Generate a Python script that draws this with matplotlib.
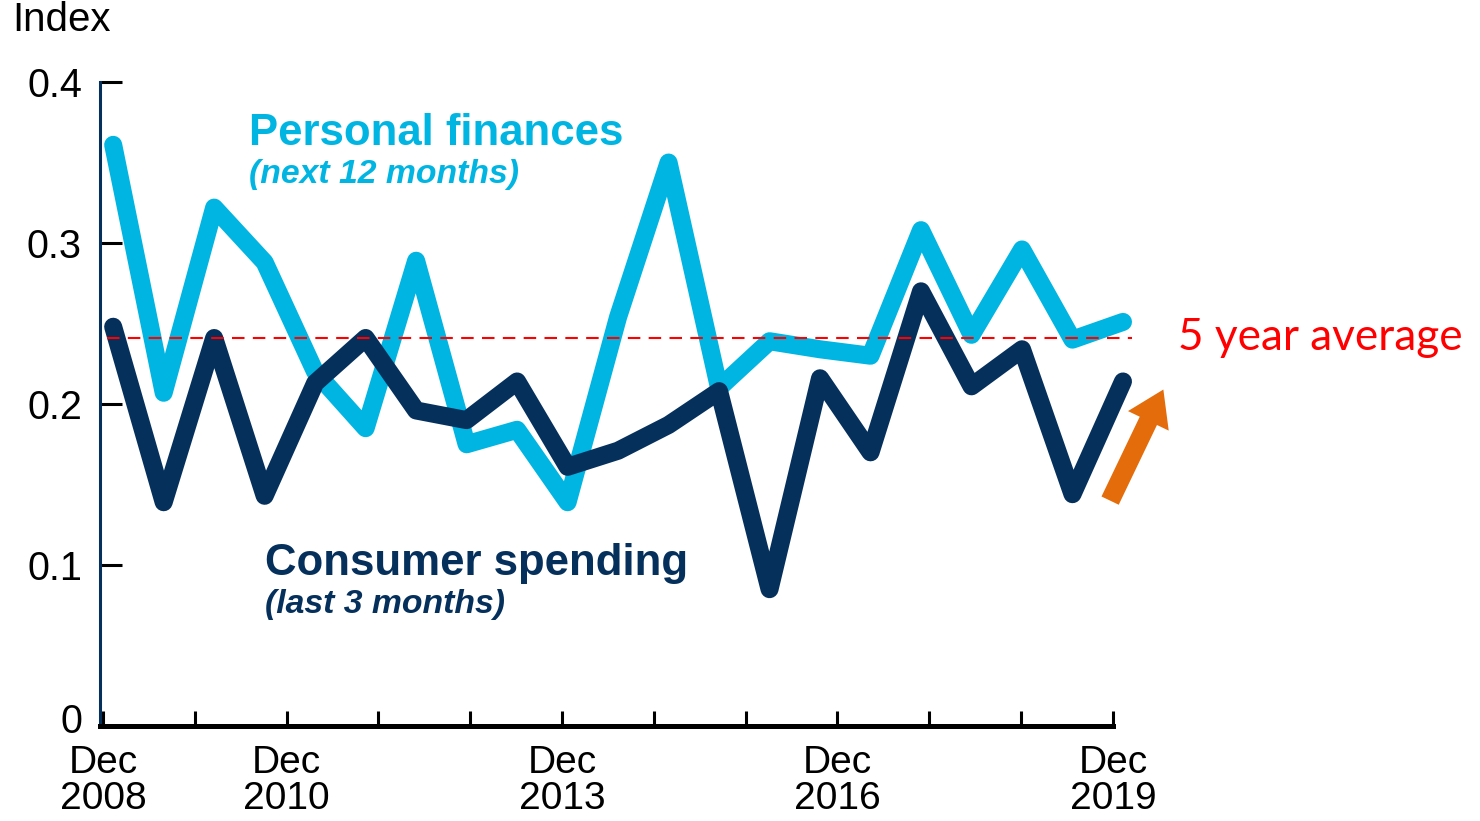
import numpy as np
import matplotlib
matplotlib.use("Agg")
import matplotlib.pyplot as plt
import matplotlib.transforms as mtransforms

# -----------------------------
# Data
# -----------------------------
# survey dates as decimal years (Dec of year N == N)
dates = [2008.11, 2008.66, 2009.21, 2009.76, 2010.31, 2010.86, 2011.41,
         2011.96, 2012.51, 2013.06, 2013.61, 2014.16, 2014.71, 2015.26,
         2015.81, 2016.36, 2016.91, 2017.46, 2018.01, 2018.56, 2019.11]

personal_finances = [0.361, 0.207, 0.322, 0.288, 0.220, 0.185, 0.289,
                     0.175, 0.184, 0.139, 0.254, 0.350, 0.210, 0.239,
                     0.234, 0.230, 0.308, 0.243, 0.296, 0.240, 0.251]

consumer_spending = [0.248, 0.139, 0.241, 0.143, 0.213, 0.241, 0.196,
                     0.190, 0.214, 0.161, 0.171, 0.187, 0.208, 0.085,
                     0.216, 0.170, 0.270, 0.211, 0.234, 0.144, 0.214]

five_year_avg = 0.241

year_ticks = [2008, 2009, 2010, 2011, 2012, 2013, 2014, 2015, 2016, 2017, 2018, 2019]
year_labels = ["Dec\n2008", "", "Dec\n2010", "", "", "Dec\n2013", "", "",
               "Dec\n2016", "", "", "Dec\n2019"]
y_ticks = [0, 0.1, 0.2, 0.3, 0.4]
y_labels = ["0", "0.1", "0.2", "0.3", "0.4"]

# arrow annotation (data coords)
ARROW_TAIL = (2018.97, 0.140)
ARROW_HEAD = (2019.55, 0.209)

# -----------------------------
# Style
# -----------------------------
LIGHT = "#00B5E2"
NAVY = "#05305C"
ORANGE = "#E46C0A"
RED = "#FF0000"

plt.rcParams["font.family"] = ["Liberation Sans", "DejaVu Sans"]

fig = plt.figure(figsize=(14.8, 8.21), dpi=100)
ax = fig.add_axes([0.0676, 0.1157, 0.7027, 0.8236])

ax.plot(dates, personal_finances, color=LIGHT, lw=13,
        solid_capstyle="round", solid_joinstyle="round", zorder=3)
ax.plot(dates, consumer_spending, color=NAVY, lw=13,
        solid_capstyle="round", solid_joinstyle="round", zorder=4)

ax.hlines(five_year_avg, dates[0] - 0.07, dates[-1] + 0.1, color=RED,
          lw=1.5, linestyles=(0, (6, 4)), zorder=5)

ax.set_xlim(2007.967, 2019.296)
ax.set_ylim(0, 0.42)

for s in ["top", "right"]:
    ax.spines[s].set_visible(False)
ax.spines["left"].set_color(NAVY)
ax.spines["left"].set_linewidth(2.2)
ax.spines["left"].set_bounds(0, 0.4)
ax.spines["bottom"].set_color("black")
ax.spines["bottom"].set_linewidth(3.6)
ax.spines["bottom"].set_bounds(2007.967, 2019)

ax.set_yticks(y_ticks)
ax.set_yticklabels(y_labels)
ax.set_xticks(year_ticks)
ax.set_xticklabels(year_labels, linespacing=1.0)

ax.tick_params(axis="y", direction="in", length=16, width=2.2,
               color="black", labelsize=28.5, pad=13)
ax.tick_params(axis="x", direction="in", length=11, width=2.2,
               color="black", labelsize=28, pad=14)

# the "0" label sits a little above the x axis in the original
zero_lbl = ax.get_yticklabels()[0]
zero_lbl.set_transform(zero_lbl.get_transform() +
                       mtransforms.ScaledTranslation(0, 8 / 100, fig.dpi_scale_trans))

# labels
fig.text(12 / 1480, 1 - 20 / 821, "Index", fontsize=29, va="center", ha="left")

fig.text(249 / 1480, 1 - 145 / 821, "Personal finances", color=LIGHT,
         fontsize=31.5, fontweight="bold", va="baseline", ha="left")
fig.text(249 / 1480, 1 - 183 / 821, "(next 12 months)", color=LIGHT,
         fontsize=24.3, fontweight="bold", fontstyle="italic", va="baseline", ha="left")
fig.text(265 / 1480, 1 - 575 / 821, "Consumer spending", color=NAVY,
         fontsize=31.5, fontweight="bold", va="baseline", ha="left")
fig.text(265 / 1480, 1 - 613 / 821, "(last 3 months)", color=NAVY,
         fontsize=24.3, fontweight="bold", fontstyle="italic", va="baseline", ha="left")

fig.text(1178 / 1480, 1 - 350 / 821, "5 year average", color=RED,
         fontsize=31.8, family=["Lato", "DejaVu Sans"], va="baseline", ha="left")

ax.annotate("", xy=ARROW_HEAD, xytext=ARROW_TAIL, annotation_clip=False,
            arrowprops=dict(arrowstyle="simple,head_length=1.0,head_width=1.3,tail_width=0.55",
                            mutation_scale=25, color=ORANGE, lw=0,
                            shrinkA=0, shrinkB=0))

fig.savefig("out.png", dpi=100)
